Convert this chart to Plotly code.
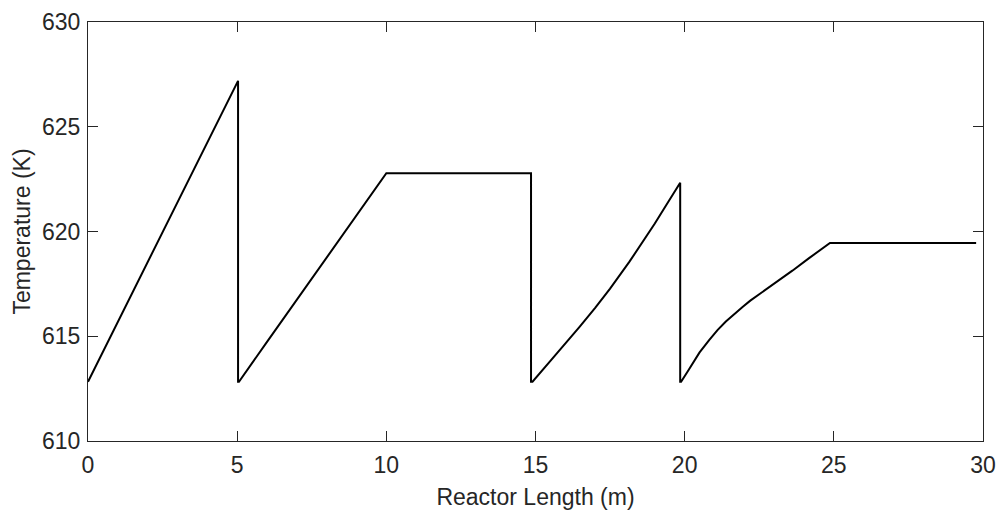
import plotly.graph_objects as go

# reactor length (m) and temperature (K)
length_m = [0.0, 1.0, 2.0, 3.0, 4.0, 5.03,
            5.03, 5.06, 6.0, 7.0, 8.0, 9.0, 10.0,
            12.0, 14.85,
            14.85, 14.9, 15.5, 16.0, 16.47, 17.0, 17.5, 18.15, 18.6, 19.0, 19.4, 19.85,
            19.85, 19.88, 20.1, 20.26, 20.5, 20.82, 21.1, 21.38, 21.65, 21.94, 22.2, 22.5,
            23.05, 23.61, 24.17, 24.87,
            27.0, 29.77]
temp_k = [612.83, 615.68, 618.53, 621.38, 624.23, 627.19,
          612.83, 612.83, 614.73, 616.73, 618.73, 620.73, 622.78,
          622.78, 622.78,
          612.83, 612.83, 613.82, 614.64, 615.44, 616.36, 617.27, 618.56, 619.5, 620.38, 621.3, 622.33,
          612.83, 612.83, 613.32, 613.7, 614.23, 614.82, 615.29, 615.7, 616.05, 616.4, 616.7, 617.0,
          617.56, 618.13, 618.73, 619.45,
          619.45, 619.45]

x_ticks = [0, 5, 10, 15, 20, 25, 30]
y_ticks = [610, 615, 620, 625, 630]

fig = go.Figure()
fig.add_trace(go.Scatter(
    x=length_m,
    y=temp_k,
    mode="lines",
    line=dict(color="black", width=2),
    showlegend=False,
))

font = dict(family="Liberation Sans, Arial", size=23, color="#262626")
axis_style = dict(
    showgrid=False,
    zeroline=False,
    showline=True,
    linecolor="#262626",
    linewidth=1,
    mirror="ticks",
    ticks="inside",
    ticklen=10,
    tickcolor="#262626",
    tickfont=font,
    automargin=False,
)

fig.update_xaxes(range=[0, 30], tickvals=x_ticks, ticklabelstandoff=3,
                 title=dict(text="Reactor Length (m)", standoff=15, font=font),
                 **axis_style)
fig.update_yaxes(range=[610, 630], tickvals=y_ticks, ticklabelstandoff=2,
                 title=dict(text="Temperature (K)", standoff=4, font=font),
                 **axis_style)

fig.update_layout(
    width=1000, height=510,
    margin=dict(l=88, r=17, t=22, b=69),
    plot_bgcolor="white",
    paper_bgcolor="white",
)

# drop the default 8px body margin so the figure fills the window
fig.write_html("out.html",
               config={"displayModeBar": False},
               post_script="document.body.style.margin='0';document.body.style.overflow='hidden';")
